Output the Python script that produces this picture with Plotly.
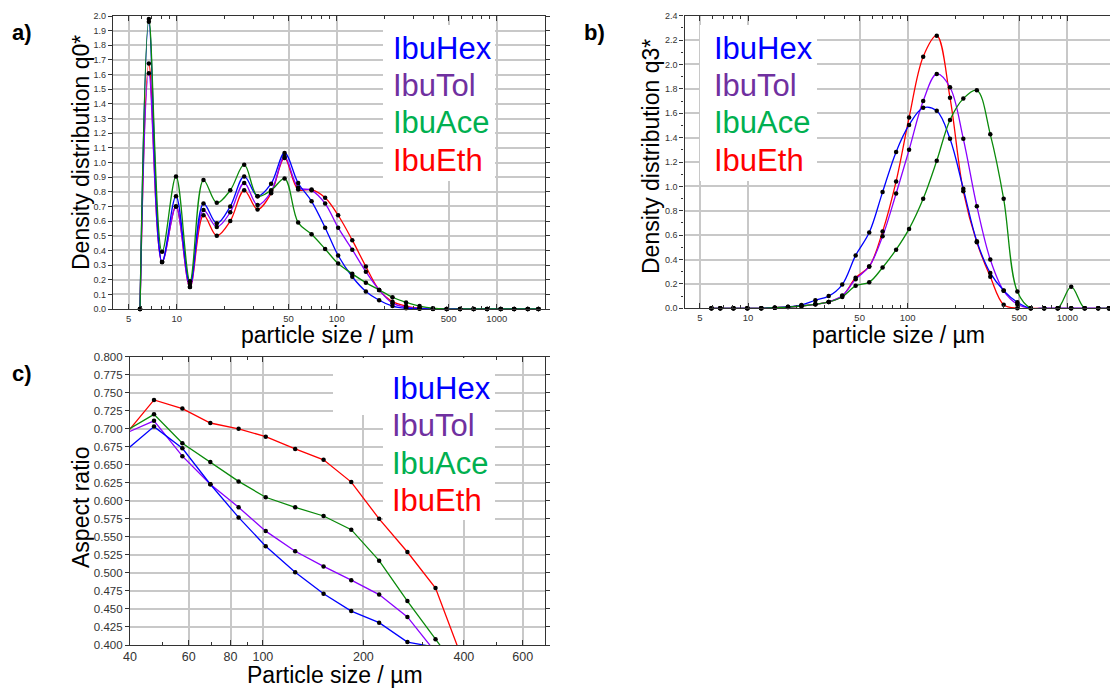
import plotly.graph_objects as go

# ---------------- data ----------------
SIZES = [5.9, 6.7, 8.1, 9.9, 12.1, 14.7, 17.8, 21.6, 26.4, 32.0, 38.9, 47.2, 57.4, 69.6,
         84.6, 102, 125, 152, 184, 223, 271, 329, 399, 486, 590, 716, 870, 1057, 1284,
         1560, 1820]
SERIES = ["IbuHex", "IbuTol", "IbuAce", "IbuEth"]

# panel a: q0* density distribution
Q0_HEX = [0, 1.96, 0.32, 0.77, 0.17, 0.72, 0.585, 0.70, 0.905, 0.77, 0.855, 1.065, 0.86, 0.735,
          0.555, 0.365, 0.22, 0.12, 0.06, 0.02, 0.005, 0.002, 0, 0, 0, 0, 0, 0, 0, 0, 0]
Q0_TOL = [0, 1.61, 0.32, 0.70, 0.15, 0.675, 0.56, 0.66, 0.86, 0.71, 0.80, 1.04, 0.83, 0.81,
          0.72, 0.555, 0.405, 0.255, 0.13, 0.04, 0.012, 0.004, 0.001, 0, 0, 0, 0, 0, 0, 0, 0]
Q0_ACE = [0, 1.98, 0.39, 0.905, 0.19, 0.88, 0.725, 0.81, 0.985, 0.77, 0.81, 0.89, 0.59, 0.51,
          0.41, 0.31, 0.24, 0.18, 0.13, 0.08, 0.045, 0.02, 0.005, 0, 0, 0, 0, 0, 0, 0, 0]
Q0_ETH = [0, 1.675, 0.32, 0.70, 0.15, 0.64, 0.50, 0.60, 0.81, 0.68, 0.79, 1.03, 0.815, 0.815,
          0.76, 0.64, 0.47, 0.29, 0.13, 0.05, 0.02, 0.006, 0.002, 0, 0, 0, 0, 0, 0, 0, 0]

# panel b: q3* density distribution
Q3_HEX = [0, 0, 0, 0, 0, 0.005, 0.012, 0.027, 0.066, 0.10, 0.195, 0.434, 0.621, 0.953,
          1.283, 1.504, 1.645, 1.62, 1.39, 0.98, 0.55, 0.29, 0.145, 0.05, 0, 0, 0, 0, 0, 0, 0]
Q3_TOL = [0, 0, 0, 0, 0, 0.005, 0.01, 0.019, 0.033, 0.052, 0.104, 0.239, 0.343, 0.59,
          0.942, 1.30, 1.70, 1.922, 1.813, 1.39, 0.838, 0.40, 0.143, 0.033, 0, 0, 0, 0, 0, 0, 0]
Q3_ACE = [0, 0, 0, 0, 0, 0.005, 0.01, 0.019, 0.033, 0.052, 0.093, 0.184, 0.214, 0.335,
          0.481, 0.651, 0.898, 1.21, 1.545, 1.72, 1.788, 1.427, 0.898, 0.137, 0, 0, 0, 0.176, 0, 0, 0]
Q3_ETH = [0, 0, 0, 0, 0, 0.005, 0.01, 0.019, 0.033, 0.052, 0.10, 0.25, 0.343, 0.629,
          1.041, 1.564, 2.064, 2.236, 1.728, 0.96, 0.541, 0.258, 0.03, 0, 0, 0, 0, 0, 0, 0, 0]

# panel c: aspect ratio
AR_SIZES = [38.9, 47.2, 57.4, 69.6, 84.6, 102, 125, 152, 184, 223, 271, 329, 399]
AR_HEX = [0.670, 0.703, 0.673, 0.623, 0.577, 0.537, 0.501, 0.471, 0.447, 0.431, 0.404, 0.397]
AR_TOL = [0.694, 0.711, 0.662, 0.623, 0.591, 0.558, 0.530, 0.509, 0.490, 0.470, 0.439, 0.390]
AR_ACE = [0.697, 0.720, 0.680, 0.654, 0.627, 0.605, 0.591, 0.579, 0.560, 0.517, 0.461, 0.408, 0.356]
AR_ETH = [0.693, 0.740, 0.728, 0.708, 0.700, 0.689, 0.672, 0.657, 0.626, 0.575, 0.529, 0.479, 0.376]

AB_TICKS = [5, 10, 50, 100, 500, 1000]
C_TICKS = [40, 60, 80, 100, 200, 400, 600]

# ---------------- styling ----------------
W, H = 1110, 690
FONT = "Arial, Liberation Sans, sans-serif"
LINE_COLORS = {"IbuHex": "#0000ff", "IbuTol": "#8a00ff", "IbuAce": "#0a8a0a", "IbuEth": "#ff0000"}
TEXT_COLORS = {"IbuHex": "#0000ff", "IbuTol": "#7030a0", "IbuAce": "#00b050", "IbuEth": "#ff0000"}
DRAW_ORDER = ["IbuEth", "IbuTol", "IbuHex", "IbuAce"]
GRID = "#c8c8c8"
AXC = "#333333"


def xdom(p0, p1):
    return [p0 / W, min(p1 / W, 1.0)]


def ydom(top, bottom):
    return [1 - bottom / H, 1 - top / H]


fig = go.Figure()

panel_a = {"IbuHex": Q0_HEX, "IbuTol": Q0_TOL, "IbuAce": Q0_ACE, "IbuEth": Q0_ETH}
panel_b = {"IbuHex": Q3_HEX, "IbuTol": Q3_TOL, "IbuAce": Q3_ACE, "IbuEth": Q3_ETH}
panel_c = {"IbuHex": AR_HEX, "IbuTol": AR_TOL, "IbuAce": AR_ACE, "IbuEth": AR_ETH}

for data, xa, ya in [(panel_a, "x", "y"), (panel_b, "x2", "y2")]:
    for name in DRAW_ORDER:
        ys = data[name]
        fig.add_trace(go.Scatter(x=SIZES, y=ys, mode="lines", xaxis=xa, yaxis=ya,
                                 line=dict(color=LINE_COLORS[name], width=1.3, shape="spline", smoothing=1.0),
                                 showlegend=False, hoverinfo="skip"))
    for name in DRAW_ORDER:
        ys = data[name]
        fig.add_trace(go.Scatter(x=SIZES, y=ys, mode="markers", xaxis=xa, yaxis=ya, cliponaxis=False,
                                 marker=dict(color="black", size=4.5), showlegend=False))

for name in DRAW_ORDER:
    ys = panel_c[name]
    xs = AR_SIZES[:len(ys)]
    fig.add_trace(go.Scatter(x=xs, y=ys, mode="lines", xaxis="x3", yaxis="y3",
                             line=dict(color=LINE_COLORS[name], width=1.3),
                             showlegend=False, hoverinfo="skip"))
for name in DRAW_ORDER:
    ys = panel_c[name]
    xs = AR_SIZES[:len(ys)]
    px = [x for x, y in zip(xs, ys) if x >= 40 and y >= 0.4]
    py = [y for x, y in zip(xs, ys) if x >= 40 and y >= 0.4]
    fig.add_trace(go.Scatter(x=px, y=py, mode="markers", xaxis="x3", yaxis="y3", cliponaxis=False,
                             marker=dict(color="black", size=4.5), showlegend=False))


def logx(domain, rng, tickvals, minor_vals, anchor, fs):
    return dict(type="log", domain=domain, range=rng, anchor=anchor, automargin=False,
                tickmode="array", tickvals=tickvals, ticktext=[str(v) for v in tickvals],
                tickfont=dict(family=FONT, size=fs, color=AXC),
                ticks="inside", ticklen=5, tickwidth=1, tickcolor=AXC,
                showline=True, linecolor=AXC, linewidth=1.2, mirror="allticks",
                showgrid=True, gridcolor=GRID, gridwidth=1.5, zeroline=False,
                minor=dict(tickmode="array", tickvals=minor_vals, ticks="inside", ticklen=3,
                           tickcolor=AXC, showgrid=False))


def liny(domain, rng, dtick, fmt, anchor, fs, minor_dtick=None):
    d = dict(domain=domain, range=rng, anchor=anchor, dtick=dtick, tick0=0, tickformat=fmt,
             automargin=False,
             tickfont=dict(family=FONT, size=fs, color=AXC),
             ticks="outside", ticklen=4, tickwidth=1, tickcolor=AXC,
             showline=True, linecolor=AXC, linewidth=1.2, mirror="allticks",
             showgrid=True, gridcolor=GRID, gridwidth=1.5, zeroline=False)
    if minor_dtick:
        d["minor"] = dict(dtick=minor_dtick, ticks="outside", ticklen=2.5, tickcolor=AXC, showgrid=False)
    return d


AB_MINOR = [4, 6, 7, 8, 9, 20, 30, 40, 60, 70, 80, 90, 200, 300, 400, 600, 700, 800, 900, 2000]
C_MINOR = [50, 70, 90, 300, 500, 700]

fig.update_layout(
    width=W, height=H, margin=dict(l=0, r=0, t=0, b=0, autoexpand=False),
    paper_bgcolor="white", plot_bgcolor="white", showlegend=False,
    xaxis=logx(xdom(113, 545), [0.602, 3.301], AB_TICKS, AB_MINOR, "y", 9.5),
    yaxis=liny(ydom(16, 309), [0, 2.0], 0.1, ".1f", "x", 9),
    xaxis2=logx(xdom(684.5, 1110), [0.602, 3.267], AB_TICKS, AB_MINOR, "y2", 9.5),
    yaxis2=liny(ydom(15.7, 308.3), [0, 2.4], 0.2, ".1f", "x2", 9, 0.1),
    xaxis3=logx(xdom(130, 545), [1.60206, 2.8451], C_TICKS, C_MINOR, "y3", 12.5),
    yaxis3=liny(ydom(356.7, 645), [0.4, 0.8], 0.025, ".3f", "x3", 11.5),
)

shapes = []
annotations = []


def prect(x0, y0, x1, y1):
    shapes.append(dict(type="rect", xref="paper", yref="paper", x0=x0 / W, x1=x1 / W,
                       y0=1 - y1 / H, y1=1 - y0 / H, fillcolor="white", line=dict(width=0),
                       layer="above"))


def ptext(text, x, y, size, color="black", xanchor="center", angle=0, bold=False):
    annotations.append(dict(text=("<b>%s</b>" % text) if bold else text, xref="paper", yref="paper",
                            x=x / W, y=1 - y / H, xanchor=xanchor, yanchor="middle",
                            showarrow=False, textangle=angle,
                            font=dict(family=FONT, size=size, color=color)))


# legend boxes
prect(383, 25, 495, 181)
prect(700, 25, 817, 181)
prect(333, 358, 495, 415)
prect(383, 358, 495, 520)

for (lx, top) in [(391, 48), (712, 48), (390, 388.5)]:
    for i, name in enumerate(SERIES):
        ptext(name, lx, top + i * 37.4, 31, TEXT_COLORS[name], xanchor="left")

# axis titles
ptext("particle size / µm", 327, 335, 23)
ptext("particle size / µm", 898, 335, 23)
ptext("Particle size / µm", 335, 675, 23)
ptext("Density distribution q0*", 81, 153, 23, angle=-90)
ptext("Density distribution q3*", 651, 157, 23, angle=-90)
ptext("Aspect ratio", 81, 508, 23, angle=-90)

# panel labels
ptext("a)", 22, 33, 22, bold=True)
ptext("b)", 594, 33, 22, bold=True)
ptext("c)", 22, 373, 22, bold=True)

fig.update_layout(shapes=shapes, annotations=annotations)
fig.write_html("out.html", config={"displayModeBar": False},
               post_script="document.body.style.margin='0';document.body.style.overflow='hidden';")
